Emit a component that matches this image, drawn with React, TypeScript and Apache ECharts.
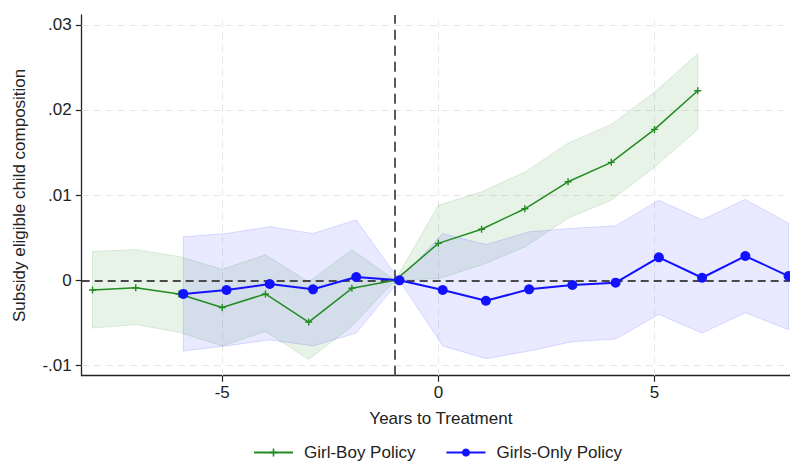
import React, { useEffect, useRef } from "react";
import * as echarts from "echarts";

// Event-time estimates with 95% confidence bands
const girlBoyYears = [-8, -7, -6, -5, -4, -3, -2, -1, 0, 1, 2, 3, 4, 5, 6];
const girlBoyEst = [-0.00114, -0.00087, -0.0016, -0.0032, -0.0016, -0.0049, -0.00094, 0, 0.00434, 0.006, 0.0084, 0.01157, 0.01385, 0.01772, 0.02225];
const girlBoyLo = [-0.0056, -0.0052, -0.0061, -0.0077, -0.006, -0.0093, -0.0054, 0, 0.0002, 0.0018, 0.0039, 0.0073, 0.0094, 0.0133, 0.0177];
const girlBoyHi = [0.0034, 0.0036, 0.0028, 0.0013, 0.003, -0.0002, 0.0036, 0, 0.0088, 0.0104, 0.0127, 0.0161, 0.0183, 0.0221, 0.0266];

const girlsOnlyYears = [-6, -5, -4, -3, -2, -1, 0, 1, 2, 3, 4, 5, 6, 7, 8];
const girlsOnlyEst = [-0.0016, -0.00114, -0.00043, -0.00106, 0.00039, 0, -0.00114, -0.0024, -0.00106, -0.00055, -0.00028, 0.0027, 0.0003, 0.00285, 0.0005];
const girlsOnlyLo = [-0.0083, -0.0077, -0.007, -0.0077, -0.0062, 0, -0.0077, -0.0092, -0.0083, -0.0072, -0.0069, -0.004, -0.0062, -0.0038, -0.0058];
const girlsOnlyHi = [0.0051, 0.0055, 0.0063, 0.0055, 0.0071, 0, 0.0055, 0.0042, 0.0057, 0.0061, 0.0064, 0.0094, 0.0071, 0.0095, 0.0067];

// Girls-only estimates are nudged right so the two series don't overlap
const GIRLS_ONLY_SHIFT = 0.1;

const xTicks = [-5, 0, 5];
const yTicks = [-0.01, 0, 0.01, 0.02, 0.03];
const treatmentLine = -1;

const GREEN = "#228b22";
const BLUE = "#1212ff";
const FONT = "Liberation Sans, Arial, Helvetica, sans-serif";
const FONT_SIZE = 17;
const PLUS = "path://M4,0H6V4H10V6H6V10H4V6H0V4H4Z";

function fmtY(v: number): string {
  if (Math.abs(v) < 1e-12) return "0";
  const s = Math.abs(v).toFixed(2).replace(/^0/, "");
  return (v < 0 ? "-" : "") + s;
}

function band(xs: number[], lo: number[], hi: number[], fill: string, stroke: string, z: number) {
  return {
    type: "custom",
    silent: true,
    z,
    clip: true,
    data: xs.map((x, i) => [x, lo[i], hi[i]]),
    encode: { x: 0, y: [1, 2] },
    renderItem: (params: any, api: any) => {
      if (params.dataIndex !== 0) return null;
      const upper = xs.map((x, i) => api.coord([x, hi[i]]));
      const lower = xs.map((x, i) => api.coord([x, lo[i]])).reverse();
      return {
        type: "polygon",
        shape: { points: upper.concat(lower) },
        style: { fill, stroke, lineWidth: 1 },
      };
    },
  };
}

export default function App() {
  const ref = useRef<HTMLDivElement>(null);

  useEffect(() => {
    if (!ref.current) return;
    const chart = echarts.init(ref.current, undefined, { renderer: "svg" });
    const girlsX = girlsOnlyYears.map((y) => y + GIRLS_ONLY_SHIFT);

    const gridStyle = { color: "#e6e6e6", width: 1, type: [7, 5] };
    const refStyle = { color: "#4a4a4a", width: 1.8, type: [8, 5] };
    const textBase = { fontSize: FONT_SIZE, color: "#222", fontFamily: FONT };

    chart.setOption({
      animation: false,
      backgroundColor: "#ffffff",
      textStyle: { fontFamily: FONT },
      grid: { left: 81.7, right: 0, top: 15, bottom: 88.3, containLabel: false },
      xAxis: {
        type: "value",
        min: -8.25,
        max: 8.365,
        name: "Years to Treatment",
        nameLocation: "middle",
        nameGap: 34,
        nameTextStyle: textBase,
        axisLine: { show: true, onZero: false, lineStyle: { color: "#222", width: 1.3 } },
        axisTick: { show: true, length: 6, customValues: xTicks, lineStyle: { color: "#222", width: 1.2 } },
        axisLabel: { customValues: xTicks, margin: 8, ...textBase },
        splitLine: { show: false },
      },
      yAxis: {
        type: "value",
        min: -0.0112,
        max: 0.03115,
        name: "Subsidy eligible child composition",
        nameLocation: "middle",
        nameGap: 54,
        nameTextStyle: textBase,
        axisLine: { show: true, onZero: false, lineStyle: { color: "#222", width: 1.3 } },
        axisTick: { show: true, length: 6, customValues: yTicks, lineStyle: { color: "#222", width: 1.2 } },
        axisLabel: { customValues: yTicks, margin: 10, formatter: fmtY, ...textBase },
        splitLine: { show: false },
      },
      legend: {
        data: ["Girl-Boy Policy", "Girls-Only Policy"],
        bottom: -2,
        left: 248,
        itemWidth: 39,
        itemHeight: 10,
        itemGap: 30,
        textStyle: { ...textBase, padding: [0, 0, 0, 6] },
      },
      series: [
        {
          type: "line",
          silent: true,
          data: [],
          markLine: {
            silent: true,
            symbol: ["none", "none"],
            z: 1,
            label: { show: false },
            lineStyle: gridStyle,
            data: [
              ...yTicks.filter((v) => v !== 0).map((v) => ({ yAxis: v })),
              ...xTicks.map((v) => ({ xAxis: v })),
            ],
          },
        },
        band(girlBoyYears, girlBoyLo, girlBoyHi, "rgba(34,139,34,0.1)", "rgba(34,139,34,0.14)", 2),
        band(girlsX, girlsOnlyLo, girlsOnlyHi, "rgba(40,40,255,0.1)", "rgba(40,40,255,0.14)", 2),
        {
          type: "line",
          silent: true,
          data: [],
          markLine: {
            silent: true,
            symbol: ["none", "none"],
            z: 3,
            label: { show: false },
            lineStyle: refStyle,
            data: [{ yAxis: 0 }, { xAxis: treatmentLine, lineStyle: { ...refStyle, type: [10, 6] } }],
          },
        },
        {
          name: "Girl-Boy Policy",
          type: "line",
          z: 4,
          data: girlBoyYears.map((x, i) => [x, girlBoyEst[i]]),
          symbol: PLUS,
          symbolSize: 7,
          showAllSymbol: true,
          color: GREEN,
          itemStyle: { color: GREEN },
          lineStyle: { color: GREEN, width: 1.5 },
        },
        {
          name: "Girls-Only Policy",
          type: "line",
          z: 5,
          data: girlsX.map((x, i) => [x, girlsOnlyEst[i]]),
          symbol: "circle",
          symbolSize: 10,
          showAllSymbol: true,
          color: BLUE,
          itemStyle: { color: BLUE },
          lineStyle: { color: BLUE, width: 2 },
        },
      ],
    });

    return () => chart.dispose();
  }, []);

  return (
    <div style={{ position: "absolute", left: 0, top: 0, width: 790, height: 464, overflow: "hidden", background: "#fff" }}>
      <div ref={ref} style={{ width: 800, height: 464 }} />
    </div>
  );
}
